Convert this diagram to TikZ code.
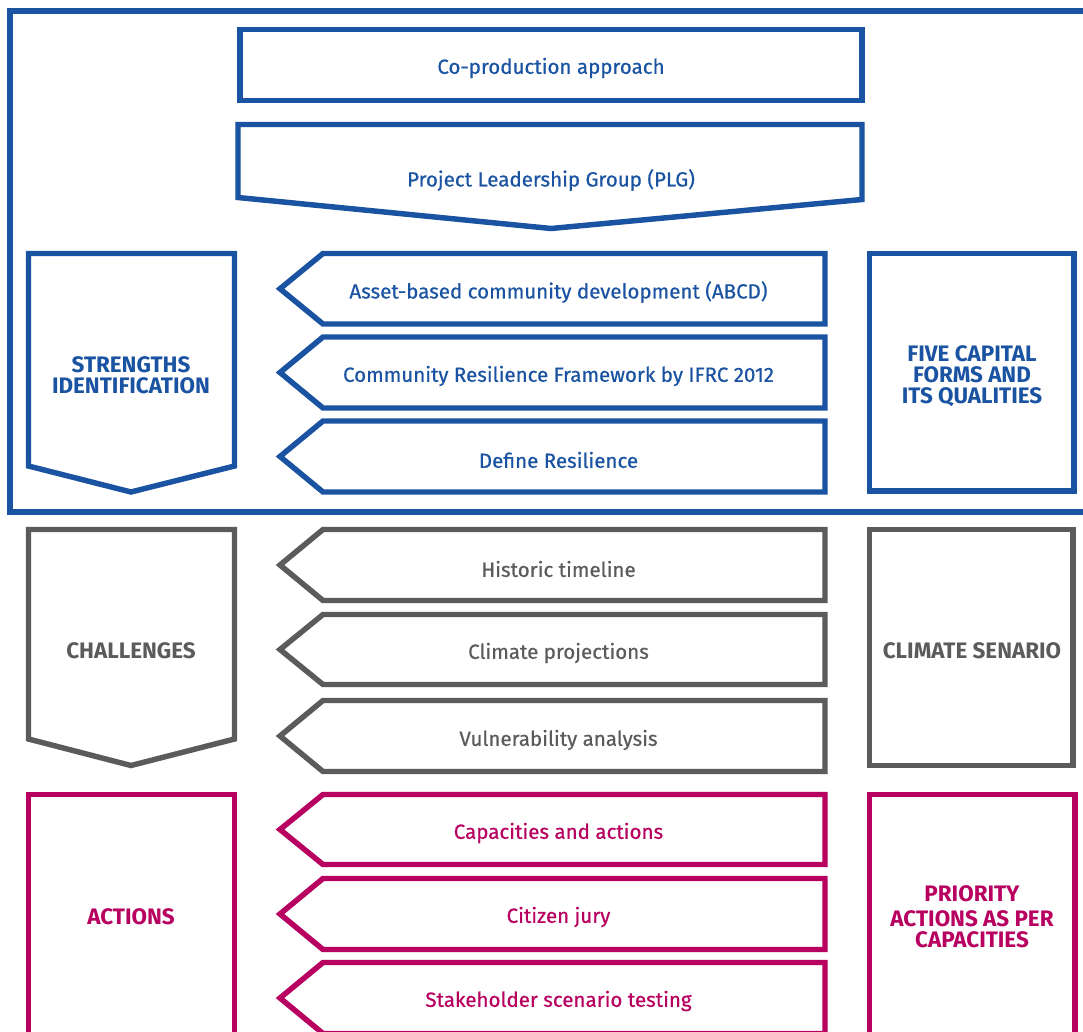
\documentclass[tikz,border=0pt]{standalone}
\usepackage{fontspec}
\setmainfont{Fira Sans}
\newfontfamily\medfont{Fira Sans}[FakeBold=0.5]
\definecolor{cblue}{HTML}{1A53A1}
\definecolor{cgrey}{HTML}{5B5B5B}
\definecolor{cmag}{HTML}{B70060}
\begin{document}
\begin{tikzpicture}[x=0.75pt,y=-0.75pt,
  shp/.style={line width=4.1pt,line join=miter,fill=white,draw=#1},
  frame/.style={line width=4.5pt,line join=miter,draw=#1},
  body/.style={font=\medfont\fontsize{15.4}{17}\selectfont,inner sep=0pt},
  head/.style={font=\bfseries\fontsize{16.8}{15.75}\selectfont,align=center,inner sep=0pt}]
\useasboundingbox (0,0) rectangle (1083,1032);
\clip (0,0) rectangle (1083,1032);
\fill[white] (0,0) rectangle (1083,1032);

% chevron macro: left-pointing
\newcommand{\chev}[3]{% color, top, bottom
  \draw[shp=#1] (323,#2) -- (825,#2) -- (825,#3) -- (323,#3) -- (280,{(#2+#3)/2}) -- cycle;}

% ===== blue section =====
\draw[frame=cblue] (10,10.5) rectangle (1100,512);
\draw[shp=cblue] (240,29.5) rectangle (862,100.5);
\node[body,text=cblue] (coprod) at (551,68) {Co-production approach};
\draw[shp=cblue] (238,124.5) -- (862,124.5) -- (862,199.5) -- (551,228.5) -- (238,197.5) -- cycle;
\node[body,text=cblue] (plg) at (551,180) {Project Leadership Group (PLG)};

\draw[shp=cblue] (28.5,253.5) -- (234.5,253.5) -- (234.5,466) -- (131,492) -- (28.5,466) -- cycle;
\node[head,text=cblue] (strengths) at (131,375) {STRENGTHS\\IDENTIFICATION};

\chev{cblue}{253.5}{324}
\node[body,text=cblue] (abcd) at (558.5,292) {Asset-based community development (ABCD)};
\chev{cblue}{337}{408}
\node[body,text=cblue] (crf) at (558.5,376) {Community Resilience Framework by IFRC 2012};
\chev{cblue}{421}{492}
\node[body,text=cblue] (defres) at (558.5,460) {Define Resilience};

\draw[shp=cblue] (869.5,253.5) rectangle (1074,491);
\node[head,text=cblue] (five) at (972,376) {FIVE CAPITAL\\FORMS AND\\ITS QUALITIES};

% ===== grey section =====
\draw[shp=cgrey] (28.5,529.5) -- (234.5,529.5) -- (234.5,739) -- (131,765.5) -- (28.5,739) -- cycle;
\node[head,text=cgrey] (chall) at (131,651) {CHALLENGES};

\chev{cgrey}{529.5}{600.5}
\node[body,text=cgrey] (hist) at (558.5,569) {Historic timeline};
\chev{cgrey}{614.5}{684.5}
\node[body,text=cgrey] (clim) at (558.5,653) {Climate projections};
\chev{cgrey}{700.5}{771.5}
\node[body,text=cgrey] (vuln) at (558.5,740) {Vulnerability analysis};

\draw[shp=cgrey] (869.5,529.5) rectangle (1073,765.5);
\node[head,text=cgrey] (senario) at (972,651) {CLIMATE SENARIO};

% ===== magenta section =====
\draw[shp=cmag] (28.5,794.5) rectangle (234.5,1050);
\node[head,text=cmag] (actions) at (131,917) {ACTIONS};

\chev{cmag}{794.5}{864.5}
\node[body,text=cmag] (capac) at (558.5,833) {Capacities and actions};
\chev{cmag}{878.5}{949.5}
\node[body,text=cmag] (jury) at (558.5,917) {Citizen jury};
\chev{cmag}{962.5}{1033.5}
\node[body,text=cmag] (stake) at (558.5,1001) {Stakeholder scenario testing};

\draw[shp=cmag] (869.5,794.5) rectangle (1075,1050);
\node[head,text=cmag] (prio) at (972,917) {PRIORITY\\[3pt]ACTIONS AS PER\\CAPACITIES};
\end{tikzpicture}
\end{document}
